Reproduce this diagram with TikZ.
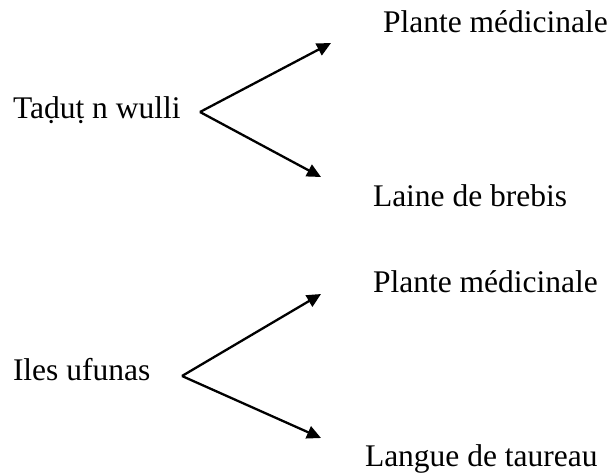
\documentclass[tikz,border=0pt]{standalone}
\usepackage{fontspec}
\setmainfont{Liberation Serif}
\usetikzlibrary{arrows.meta}
\tikzset{
  lbl/.style={anchor=base west, inner sep=0pt, outer sep=0pt, font=\fontsize{31.5}{36}\selectfont},
  arr/.style={line width=2.3pt, -{Triangle[length=14pt,width=13pt]}}
}
\begin{document}
\begin{tikzpicture}[x=1pt,y=-1pt]
\useasboundingbox (0,0) rectangle (613,474);
% top group
\node[lbl] (src1) at (13,118) {Taḍuṭ n wulli};
\node[lbl] (p1) at (383,32) {Plante médicinale};
\node[lbl] (l1) at (373,206) {Laine de brebis};
\coordinate (a1) at (200,112);
\coordinate (t1u) at (331,43);
\coordinate (t1d) at (321,177);
\draw[arr] (a1) -- (t1u);
\draw[arr] (a1) -- (t1d);
% bottom group
\node[lbl] (src2) at (13,380) {Iles ufunas};
\node[lbl] (p2) at (373,292) {Plante médicinale};
\node[lbl] (l2) at (365,466) {Langue de taureau};
\coordinate (a2) at (182,376);
\coordinate (t2u) at (321,294);
\coordinate (t2d) at (321,438);
\draw[arr] (a2) -- (t2u);
\draw[arr] (a2) -- (t2d);
\end{tikzpicture}
\end{document}
